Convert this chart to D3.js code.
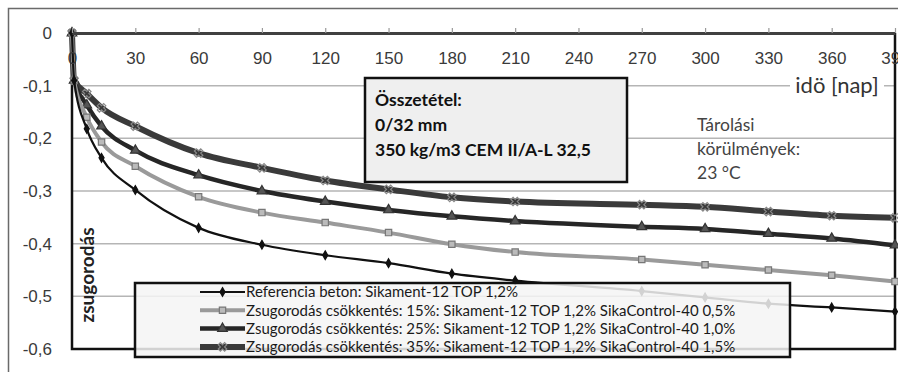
<!DOCTYPE html>
<html>
<head>
<meta charset="utf-8">
<script src="https://cdn.jsdelivr.net/npm/d3@7"></script>
<style>
  body { margin: 0; background: #fff; }
  svg { display: block; font-family: Lato, 'Open Sans', sans-serif; }
</style>
</head>
<body>
<svg id="chart" width="898" height="372"></svg>
<script>
'use strict'

// days of measurement
const DAYS = [0, 1, 7, 14, 30, 60, 90, 120, 150, 180, 210, 270, 300, 330, 360, 390];

// shrinkage values (mm/m)
const REF = [0, -0.09, -0.182, -0.237, -0.298, -0.37, -0.402, -0.422, -0.437, -0.457, -0.47, -0.49, -0.502, -0.514, -0.521, -0.529];
const RED15 = [0, -0.09, -0.16, -0.207, -0.253, -0.311, -0.341, -0.36, -0.379, -0.401, -0.416, -0.43, -0.44, -0.45, -0.46, -0.472];
const RED25 = [0, -0.09, -0.137, -0.177, -0.223, -0.27, -0.3, -0.32, -0.336, -0.348, -0.357, -0.368, -0.372, -0.381, -0.39, -0.403];
const RED35 = [0, -0.09, -0.115, -0.142, -0.177, -0.228, -0.256, -0.28, -0.297, -0.312, -0.32, -0.326, -0.33, -0.339, -0.347, -0.351];

const X_TICKS = [0, 30, 60, 90, 120, 150, 180, 210, 240, 270, 300, 330, 360, 390];
const Y_TICKS = [0, -0.1, -0.2, -0.3, -0.4, -0.5, -0.6];

const LEGEND_LABELS = [
	'Referencia beton: Sikament-12 TOP 1,2%',
	'Zsugorodás csökkentés: 15%: Sikament-12 TOP 1,2% SikaControl-40 0,5%',
	'Zsugorodás csökkentés: 25%: Sikament-12 TOP 1,2% SikaControl-40 1,0%',
	'Zsugorodás csökkentés: 35%: Sikament-12 TOP 1,2% SikaControl-40 1,5%'
];

const BOX_LINES = ['Összetétel:', '0/32 mm', '350 kg/m3 CEM II/A-L 32,5'];
const STORAGE_LINES = ['Tárolási', 'körülmények:', '23 °C'];

const SERIES = [
	{ values: REF, color: '#111', width: 2.2, symbol: d3.symbolDiamond, size: 22, mfill: '#111', mstroke: '#111', rot: 0 },
	{ values: RED15, color: '#9a9a9a', width: 4, symbol: d3.symbolSquare, size: 40, mfill: '#bbb', mstroke: '#777', rot: 0 },
	{ values: RED25, color: '#262626', width: 4.5, symbol: d3.symbolTriangle, size: 40, mfill: '#555', mstroke: '#333', rot: 0 },
	{ values: RED35, color: '#3a3a3a', width: 6, symbol: d3.symbolCross, size: 45, mfill: 'none', mstroke: '#888', rot: 45 }
];

var svg = d3.select('#chart');

var plotLeft = 72, plotRight = 895, plotTop = 33, plotBottom = 349;

var x = d3.scaleLinear()
	.domain([0, 390])
	.range([plotLeft, plotRight]);

var y = d3.scaleLinear()
	.domain([0, -0.6])
	.range([plotTop, plotBottom]);

// outer chart border
svg.append('rect')
	.attr('x', 8.5)
	.attr('y', 8.5)
	.attr('width', 1000)
	.attr('height', 1000)
	.attr('fill', '#fff')
	.attr('stroke', '#6a6a6a')
	.attr('stroke-width', 1.5);

// gridlines
svg.append('g')
	.selectAll('line')
	.data(Y_TICKS.slice(1, -1))
	.enter()
	.append('line')
	.attr('x1', plotLeft)
	.attr('x2', plotRight)
	.attr('y1', function(d) { return y(d); })
	.attr('y2', function(d) { return y(d); })
	.attr('stroke', '#b5b5b5')
	.attr('stroke-width', 1.5);

// plot border (left + bottom + right)
svg.append('path')
	.attr('d', 'M' + plotLeft + ',' + plotTop + 'V' + plotBottom + 'H' + plotRight + 'V' + plotTop)
	.attr('fill', 'none')
	.attr('stroke', '#111')
	.attr('stroke-width', 2.5);

// y axis labels
var yAxis = svg.append('g')
	.attr('transform', 'translate(' + plotLeft + ',0)')
	.call(d3.axisLeft(y)
		.tickValues(Y_TICKS)
		.tickSize(0)
		.tickPadding(20)
		.tickFormat(function(d) { return d === 0 ? '0' : d.toFixed(1).replace('.', ','); }));
yAxis.select('.domain').remove();
yAxis.selectAll('text')
	.style('font-size', '17px')
	.attr('fill', '#3a3a3a');

// axis titles
svg.append('rect')
	.attr('x', 790)
	.attr('y', 72)
	.attr('width', 94)
	.attr('height', 26)
	.attr('fill', '#fff');
svg.append('text')
	.attr('x', 837)
	.attr('y', 93)
	.attr('text-anchor', 'middle')
	.style('font-size', '22px')
	.attr('fill', '#333')
	.text('idö [nap]');

svg.append('text')
	.attr('transform', 'translate(94,275) rotate(-90)')
	.attr('text-anchor', 'middle')
	.style('font-size', '19px')
	.style('font-weight', 'bold')
	.attr('fill', '#222')
	.text('zsugorodás');

// series
var line = d3.line()
	.x(function(d, i) { return x(DAYS[i]); })
	.y(function(d) { return y(d); })
	.curve(d3.curveMonotoneX);

var series = svg.append('g')
	.selectAll('.series')
	.data(SERIES.slice().reverse())
	.enter()
	.append('g')
	.attr('class', 'series');

series.append('path')
	.attr('d', function(d) { return line(d.values); })
	.attr('fill', 'none')
	.attr('stroke', function(d) { return d.color; })
	.attr('stroke-width', function(d) { return d.width; })
	.attr('stroke-linejoin', 'round');

series.each(function(s) {
	d3.select(this)
		.selectAll('path.marker')
		.data(s.values)
		.enter()
		.append('path')
		.attr('class', 'marker')
		.attr('d', d3.symbol().type(s.symbol).size(s.size))
		.attr('transform', function(d, i) { return 'translate(' + x(DAYS[i]) + ',' + y(d) + ') rotate(' + s.rot + ')'; })
		.attr('fill', s.mfill)
		.attr('stroke', s.mstroke)
		.attr('stroke-width', 1.2);
});

// x axis along y = 0, ticks up, labels below
var xAxis = svg.append('g')
	.attr('transform', 'translate(0,' + plotTop + ')')
	.call(d3.axisBottom(x)
		.tickValues(X_TICKS)
		.tickSizeInner(-5)
		.tickSizeOuter(0)
		.tickPadding(19));
xAxis.select('.domain')
	.attr('stroke', '#404040')
	.attr('stroke-width', 3);
xAxis.selectAll('.tick line')
	.attr('stroke', '#999')
	.attr('stroke-width', 1.2);
xAxis.selectAll('text')
	.style('font-size', '17px')
	.attr('fill', '#3a3a3a');

// composition box
svg.append('rect')
	.attr('x', 365)
	.attr('y', 78)
	.attr('width', 262)
	.attr('height', 104)
	.attr('fill', '#efefef')
	.attr('stroke', '#111')
	.attr('stroke-width', 2.5);

svg.append('g')
	.selectAll('text')
	.data(BOX_LINES)
	.enter()
	.append('text')
	.attr('x', 375)
	.attr('y', function(d, i) { return 106 + i * 25; })
	.style('font-size', '17.5px')
	.style('font-weight', 'bold')
	.attr('fill', '#111')
	.text(function(d) { return d; });

// storage conditions
svg.append('g')
	.selectAll('text')
	.data(STORAGE_LINES)
	.enter()
	.append('text')
	.attr('x', 697)
	.attr('y', function(d, i) { return 131 + i * 24; })
	.style('font-size', '17.5px')
	.attr('fill', '#444')
	.text(function(d) { return d; });

// legend
svg.append('rect')
	.attr('x', 135)
	.attr('y', 283)
	.attr('width', 655)
	.attr('height', 74)
	.attr('fill', 'rgba(244,244,244,0.85)')
	.attr('stroke', '#111')
	.attr('stroke-width', 2.5);

var legend = svg.append('g')
	.selectAll('g')
	.data(SERIES)
	.enter()
	.append('g')
	.attr('transform', function(d, i) { return 'translate(200,' + (292 + i * 18.3) + ')'; });

legend.append('line')
	.attr('x1', 0)
	.attr('x2', 45)
	.attr('stroke', function(d) { return d.color; })
	.attr('stroke-width', function(d) { return d.width; });

legend.append('path')
	.attr('d', function(d) { return d3.symbol().type(d.symbol).size(d.size)(); })
	.attr('transform', function(d) { return 'translate(22.5,0) rotate(' + d.rot + ')'; })
	.attr('fill', function(d) { return d.mfill; })
	.attr('stroke', function(d) { return d.mstroke; })
	.attr('stroke-width', 1.2);

legend.append('text')
	.attr('x', 46)
	.attr('dy', '0.35em')
	.style('font-size', '15px')
	.attr('fill', '#1a1a1a')
	.text(function(d, i) { return LEGEND_LABELS[i]; });
</script>
</body>
</html>
